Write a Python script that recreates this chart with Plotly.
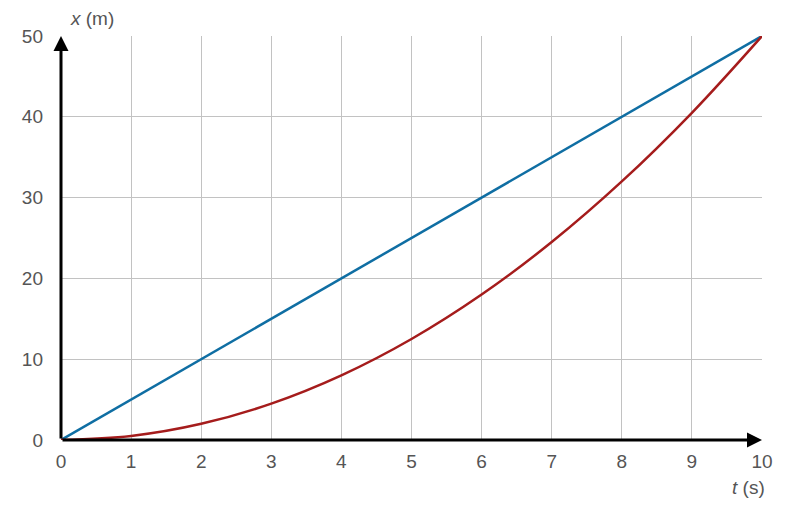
import plotly.graph_objects as go

t_values = [0, 1, 2, 3, 4, 5, 6, 7, 8, 9, 10]
x_uniform = [0, 5, 10, 15, 20, 25, 30, 35, 40, 45, 50]
x_accel = [0, 0.5, 2, 4.5, 8, 12.5, 18, 24.5, 32, 40.5, 50]
x_ticks = [0, 1, 2, 3, 4, 5, 6, 7, 8, 9, 10]
y_ticks = [0, 10, 20, 30, 40, 50]

fig = go.Figure()
fig.add_trace(go.Scatter(x=t_values, y=x_uniform, mode="lines",
                         line=dict(color="#0f6ea3", width=2.5), showlegend=False))
fig.add_trace(go.Scatter(x=t_values, y=x_accel, mode="lines",
                         line=dict(color="#a51c1c", width=2.5, shape="spline"), showlegend=False))

font = dict(family="Liberation Sans, Arial, sans-serif", size=19, color="#555555")

fig.update_layout(
    width=800, height=509,
    margin=dict(l=53, r=46, t=28, b=77),
    paper_bgcolor="white", plot_bgcolor="white",
    font=font,
    xaxis=dict(range=[0, 10], tickvals=x_ticks, showgrid=True, gridcolor="#c2c2c2", gridwidth=1,
               zeroline=False, showline=False, ticks="", ticklabelstandoff=8, tickfont=font),
    yaxis=dict(range=[0, 50], tickvals=y_ticks, showgrid=True, gridcolor="#c2c2c2", gridwidth=1,
               zeroline=False, showline=False, ticks="", ticklabelstandoff=17, tickfont=font),
)

# axes arrows
fig.add_annotation(x=10, y=0, ax=0, ay=0, xref="x", yref="y", axref="x", ayref="y",
                   showarrow=True, arrowhead=2, arrowsize=1, arrowwidth=3, arrowcolor="black", text="")
fig.add_annotation(x=0, y=50, ax=0, ay=0, xref="x", yref="y", axref="x", ayref="y",
                   showarrow=True, arrowhead=2, arrowsize=1, arrowwidth=3, arrowcolor="black", text="")

fig.add_annotation(x=0.01, y=1.0, xref="paper", yref="paper", yshift=18, xanchor="left", yanchor="middle",
                   text="<i>x</i> (m)", showarrow=False, font=font)
fig.add_annotation(x=1.0, y=0, xref="paper", yref="paper", xshift=5, yshift=-47, xanchor="right", yanchor="middle",
                   text="<i>t</i> (s)", showarrow=False, font=font)

fig.write_html("out.html")
